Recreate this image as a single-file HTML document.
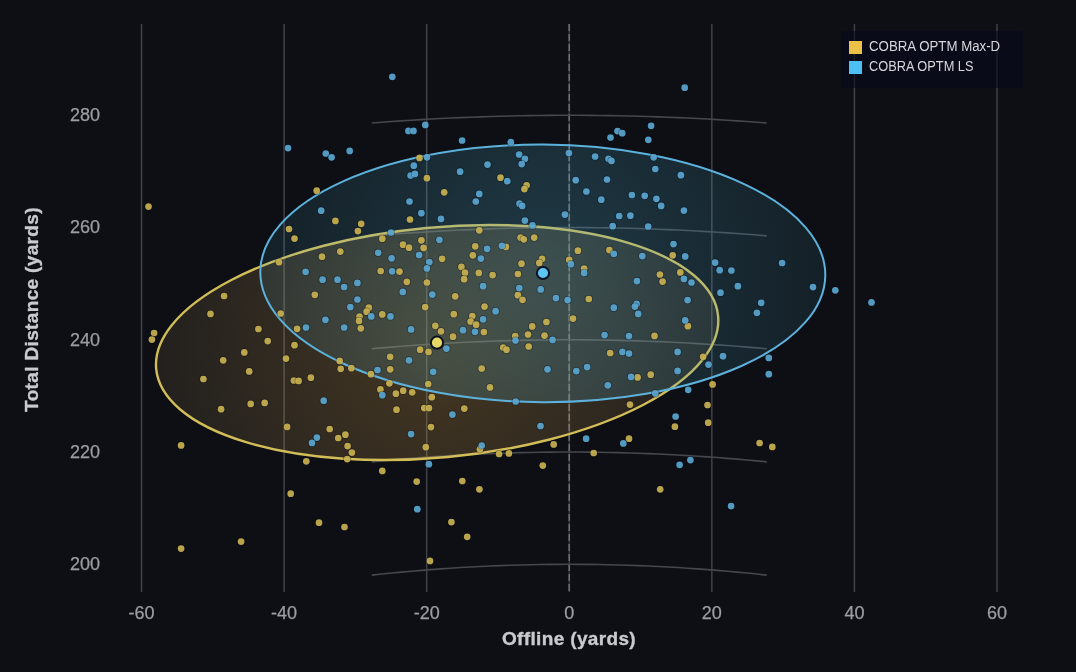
<!DOCTYPE html>
<html><head><meta charset="utf-8"><style>
html,body{margin:0;padding:0;background:#0d0f14;}
svg{display:block;will-change:transform;}
.tk{font-family:"Liberation Sans",sans-serif;font-size:18px;fill:#9c9ea4;stroke:#9c9ea4;stroke-width:0.25px;}
.ti{font-family:"Liberation Sans",sans-serif;font-size:19px;font-weight:bold;fill:#c9cace;letter-spacing:0.35px;stroke:#c9cace;stroke-width:0.35px;}
.lg{font-family:"Liberation Sans",sans-serif;font-size:14px;fill:#d6d7dc;}
</style></head><body>
<svg width="1076" height="672" viewBox="0 0 1076 672">
<defs>
<radialGradient id="gy" gradientUnits="userSpaceOnUse" cx="437.15" cy="342.5" r="282">
  <stop offset="0" stop-color="#d8a040" stop-opacity="0.282"/>
  <stop offset="1" stop-color="#cca468" stop-opacity="0.112"/>
</radialGradient>
<radialGradient id="gb" gradientUnits="userSpaceOnUse" cx="542.8" cy="273.3" r="282">
  <stop offset="0" stop-color="#50acca" stop-opacity="0.278"/>
  <stop offset="1" stop-color="#50acca" stop-opacity="0.108"/>
</radialGradient>
</defs>
<rect x="0" y="0" width="1076" height="672" fill="#0d0f14"/>
<line x1="141.51" y1="24" x2="141.51" y2="592" stroke="#404248" stroke-width="1.5"/>
<line x1="284.09" y1="24" x2="284.09" y2="592" stroke="#404248" stroke-width="1.5"/>
<line x1="426.67" y1="24" x2="426.67" y2="592" stroke="#404248" stroke-width="1.5"/>
<line x1="711.83" y1="24" x2="711.83" y2="592" stroke="#404248" stroke-width="1.5"/>
<line x1="854.41" y1="24" x2="854.41" y2="592" stroke="#404248" stroke-width="1.5"/>
<line x1="996.99" y1="24" x2="996.99" y2="592" stroke="#404248" stroke-width="1.5"/>
<line x1="569.25" y1="24" x2="569.25" y2="592" stroke="#34363b" stroke-width="1.6"/>
<line x1="569.25" y1="24" x2="569.25" y2="592" stroke="#6c6e74" stroke-width="1.6" stroke-dasharray="7,3"/>
<polyline points="371.78,575.12 381.65,574.06 391.52,573.05 401.40,572.11 411.27,571.21 421.15,570.37 431.02,569.59 440.89,568.86 450.77,568.18 460.64,567.56 470.51,566.99 480.39,566.48 490.26,566.02 500.13,565.62 510.01,565.27 519.88,564.97 529.76,564.73 539.63,564.54 549.50,564.41 559.38,564.33 569.25,564.30 579.12,564.33 589.00,564.41 598.87,564.54 608.74,564.73 618.62,564.97 628.49,565.27 638.37,565.62 648.24,566.02 658.11,566.48 667.99,566.99 677.86,567.56 687.73,568.18 697.61,568.86 707.48,569.59 717.35,570.37 727.23,571.21 737.10,572.11 746.98,573.05 756.85,574.06 766.72,575.12" fill="none" stroke="#45474d" stroke-width="1.6"/>
<polyline points="371.78,461.88 381.65,460.91 391.52,460.00 401.40,459.14 411.27,458.33 421.15,457.57 431.02,456.86 440.89,456.19 450.77,455.58 460.64,455.01 470.51,454.50 480.39,454.03 490.26,453.62 500.13,453.25 510.01,452.93 519.88,452.66 529.76,452.44 539.63,452.27 549.50,452.15 559.38,452.07 569.25,452.05 579.12,452.07 589.00,452.15 598.87,452.27 608.74,452.44 618.62,452.66 628.49,452.93 638.37,453.25 648.24,453.62 658.11,454.03 667.99,454.50 677.86,455.01 687.73,455.58 697.61,456.19 707.48,456.86 717.35,457.57 727.23,458.33 737.10,459.14 746.98,460.00 756.85,460.91 766.72,461.88" fill="none" stroke="#45474d" stroke-width="1.6"/>
<polyline points="371.78,348.80 381.65,347.92 391.52,347.09 401.40,346.30 411.27,345.55 421.15,344.86 431.02,344.20 440.89,343.60 450.77,343.03 460.64,342.52 470.51,342.04 480.39,341.62 490.26,341.24 500.13,340.90 510.01,340.61 519.88,340.36 529.76,340.16 539.63,340.00 549.50,339.89 559.38,339.82 569.25,339.80 579.12,339.82 589.00,339.89 598.87,340.00 608.74,340.16 618.62,340.36 628.49,340.61 638.37,340.90 648.24,341.24 658.11,341.62 667.99,342.04 677.86,342.52 687.73,343.03 697.61,343.60 707.48,344.20 717.35,344.86 727.23,345.55 737.10,346.30 746.98,347.09 756.85,347.92 766.72,348.80" fill="none" stroke="#45474d" stroke-width="1.6"/>
<polyline points="371.78,235.86 381.65,235.04 391.52,234.27 401.40,233.55 411.27,232.86 421.15,232.22 431.02,231.61 440.89,231.05 450.77,230.53 460.64,230.06 470.51,229.62 480.39,229.23 490.26,228.88 500.13,228.56 510.01,228.30 519.88,228.07 529.76,227.88 539.63,227.74 549.50,227.63 559.38,227.57 569.25,227.55 579.12,227.57 589.00,227.63 598.87,227.74 608.74,227.88 618.62,228.07 628.49,228.30 638.37,228.56 648.24,228.88 658.11,229.23 667.99,229.62 677.86,230.06 687.73,230.53 697.61,231.05 707.48,231.61 717.35,232.22 727.23,232.86 737.10,233.55 746.98,234.27 756.85,235.04 766.72,235.86" fill="none" stroke="#45474d" stroke-width="1.6"/>
<polyline points="371.78,123.01 381.65,122.26 391.52,121.54 401.40,120.87 411.27,120.23 421.15,119.63 431.02,119.07 440.89,118.55 450.77,118.07 460.64,117.63 470.51,117.22 480.39,116.86 490.26,116.53 500.13,116.24 510.01,115.99 519.88,115.78 529.76,115.61 539.63,115.47 549.50,115.38 559.38,115.32 569.25,115.30 579.12,115.32 589.00,115.38 598.87,115.47 608.74,115.61 618.62,115.78 628.49,115.99 638.37,116.24 648.24,116.53 658.11,116.86 667.99,117.22 677.86,117.63 687.73,118.07 697.61,118.55 707.48,119.07 717.35,119.63 727.23,120.23 737.10,120.87 746.98,121.54 756.85,122.26 766.72,123.01" fill="none" stroke="#45474d" stroke-width="1.6"/>
<ellipse cx="437.15" cy="342.5" rx="282.2" ry="115.0" transform="rotate(-5.38 437.15 342.5)" fill="url(#gy)" stroke="#d2bd58" stroke-width="2.4"/>
<ellipse cx="542.8" cy="273.4" rx="282.5" ry="128.8" transform="rotate(0.36 542.8 273.4)" fill="url(#gb)" stroke="#5cb2dc" stroke-width="2.0"/>
<circle cx="419.5" cy="157.9" r="4.1" fill="#000614" fill-opacity="0.35"/><circle cx="419.5" cy="157.9" r="3.35" fill="#cdb552" fill-opacity="0.9"/>
<circle cx="148.5" cy="206.6" r="4.1" fill="#000614" fill-opacity="0.35"/><circle cx="148.5" cy="206.6" r="3.35" fill="#cdb552" fill-opacity="0.9"/>
<circle cx="316.7" cy="190.7" r="4.1" fill="#000614" fill-opacity="0.35"/><circle cx="316.7" cy="190.7" r="3.35" fill="#cdb552" fill-opacity="0.9"/>
<circle cx="335.4" cy="220.9" r="4.1" fill="#000614" fill-opacity="0.35"/><circle cx="335.4" cy="220.9" r="3.35" fill="#cdb552" fill-opacity="0.9"/>
<circle cx="289.0" cy="229.0" r="4.1" fill="#000614" fill-opacity="0.35"/><circle cx="289.0" cy="229.0" r="3.35" fill="#cdb552" fill-opacity="0.9"/>
<circle cx="294.5" cy="238.6" r="4.1" fill="#000614" fill-opacity="0.35"/><circle cx="294.5" cy="238.6" r="3.35" fill="#cdb552" fill-opacity="0.9"/>
<circle cx="340.3" cy="251.6" r="4.1" fill="#000614" fill-opacity="0.35"/><circle cx="340.3" cy="251.6" r="3.35" fill="#cdb552" fill-opacity="0.9"/>
<circle cx="322.0" cy="256.7" r="4.1" fill="#000614" fill-opacity="0.35"/><circle cx="322.0" cy="256.7" r="3.35" fill="#cdb552" fill-opacity="0.9"/>
<circle cx="279.0" cy="262.2" r="4.1" fill="#000614" fill-opacity="0.35"/><circle cx="279.0" cy="262.2" r="3.35" fill="#cdb552" fill-opacity="0.9"/>
<circle cx="314.8" cy="294.8" r="4.1" fill="#000614" fill-opacity="0.35"/><circle cx="314.8" cy="294.8" r="3.35" fill="#cdb552" fill-opacity="0.9"/>
<circle cx="224.1" cy="296.0" r="4.1" fill="#000614" fill-opacity="0.35"/><circle cx="224.1" cy="296.0" r="3.35" fill="#cdb552" fill-opacity="0.9"/>
<circle cx="426.9" cy="178.2" r="4.1" fill="#000614" fill-opacity="0.35"/><circle cx="426.9" cy="178.2" r="3.35" fill="#cdb552" fill-opacity="0.9"/>
<circle cx="444.2" cy="192.3" r="4.1" fill="#000614" fill-opacity="0.35"/><circle cx="444.2" cy="192.3" r="3.35" fill="#cdb552" fill-opacity="0.9"/>
<circle cx="410.0" cy="219.5" r="4.1" fill="#000614" fill-opacity="0.35"/><circle cx="410.0" cy="219.5" r="3.35" fill="#cdb552" fill-opacity="0.9"/>
<circle cx="361.2" cy="223.8" r="4.1" fill="#000614" fill-opacity="0.35"/><circle cx="361.2" cy="223.8" r="3.35" fill="#cdb552" fill-opacity="0.9"/>
<circle cx="357.9" cy="231.1" r="4.1" fill="#000614" fill-opacity="0.35"/><circle cx="357.9" cy="231.1" r="3.35" fill="#cdb552" fill-opacity="0.9"/>
<circle cx="500.5" cy="177.7" r="4.1" fill="#000614" fill-opacity="0.35"/><circle cx="500.5" cy="177.7" r="3.35" fill="#cdb552" fill-opacity="0.9"/>
<circle cx="526.6" cy="185.3" r="4.1" fill="#000614" fill-opacity="0.35"/><circle cx="526.6" cy="185.3" r="3.35" fill="#cdb552" fill-opacity="0.9"/>
<circle cx="524.4" cy="189.1" r="4.1" fill="#000614" fill-opacity="0.35"/><circle cx="524.4" cy="189.1" r="3.35" fill="#cdb552" fill-opacity="0.9"/>
<circle cx="479.3" cy="230.3" r="4.1" fill="#000614" fill-opacity="0.35"/><circle cx="479.3" cy="230.3" r="3.35" fill="#cdb552" fill-opacity="0.9"/>
<circle cx="382.3" cy="238.7" r="4.1" fill="#000614" fill-opacity="0.35"/><circle cx="382.3" cy="238.7" r="3.35" fill="#cdb552" fill-opacity="0.9"/>
<circle cx="421.4" cy="240.3" r="4.1" fill="#000614" fill-opacity="0.35"/><circle cx="421.4" cy="240.3" r="3.35" fill="#cdb552" fill-opacity="0.9"/>
<circle cx="403.0" cy="244.7" r="4.1" fill="#000614" fill-opacity="0.35"/><circle cx="403.0" cy="244.7" r="3.35" fill="#cdb552" fill-opacity="0.9"/>
<circle cx="409.0" cy="247.7" r="4.1" fill="#000614" fill-opacity="0.35"/><circle cx="409.0" cy="247.7" r="3.35" fill="#cdb552" fill-opacity="0.9"/>
<circle cx="423.6" cy="247.9" r="4.1" fill="#000614" fill-opacity="0.35"/><circle cx="423.6" cy="247.9" r="3.35" fill="#cdb552" fill-opacity="0.9"/>
<circle cx="442.1" cy="258.8" r="4.1" fill="#000614" fill-opacity="0.35"/><circle cx="442.1" cy="258.8" r="3.35" fill="#cdb552" fill-opacity="0.9"/>
<circle cx="380.7" cy="271.0" r="4.1" fill="#000614" fill-opacity="0.35"/><circle cx="380.7" cy="271.0" r="3.35" fill="#cdb552" fill-opacity="0.9"/>
<circle cx="399.5" cy="271.6" r="4.1" fill="#000614" fill-opacity="0.35"/><circle cx="399.5" cy="271.6" r="3.35" fill="#cdb552" fill-opacity="0.9"/>
<circle cx="406.8" cy="281.8" r="4.1" fill="#000614" fill-opacity="0.35"/><circle cx="406.8" cy="281.8" r="3.35" fill="#cdb552" fill-opacity="0.9"/>
<circle cx="426.9" cy="282.5" r="4.1" fill="#000614" fill-opacity="0.35"/><circle cx="426.9" cy="282.5" r="3.35" fill="#cdb552" fill-opacity="0.9"/>
<circle cx="368.8" cy="307.7" r="4.1" fill="#000614" fill-opacity="0.35"/><circle cx="368.8" cy="307.7" r="3.35" fill="#cdb552" fill-opacity="0.9"/>
<circle cx="425.2" cy="307.1" r="4.1" fill="#000614" fill-opacity="0.35"/><circle cx="425.2" cy="307.1" r="3.35" fill="#cdb552" fill-opacity="0.9"/>
<circle cx="520.6" cy="237.6" r="4.1" fill="#000614" fill-opacity="0.35"/><circle cx="520.6" cy="237.6" r="3.35" fill="#cdb552" fill-opacity="0.9"/>
<circle cx="523.8" cy="239.3" r="4.1" fill="#000614" fill-opacity="0.35"/><circle cx="523.8" cy="239.3" r="3.35" fill="#cdb552" fill-opacity="0.9"/>
<circle cx="534.2" cy="237.6" r="4.1" fill="#000614" fill-opacity="0.35"/><circle cx="534.2" cy="237.6" r="3.35" fill="#cdb552" fill-opacity="0.9"/>
<circle cx="475.2" cy="246.3" r="4.1" fill="#000614" fill-opacity="0.35"/><circle cx="475.2" cy="246.3" r="3.35" fill="#cdb552" fill-opacity="0.9"/>
<circle cx="505.9" cy="246.9" r="4.1" fill="#000614" fill-opacity="0.35"/><circle cx="505.9" cy="246.9" r="3.35" fill="#cdb552" fill-opacity="0.9"/>
<circle cx="472.8" cy="255.3" r="4.1" fill="#000614" fill-opacity="0.35"/><circle cx="472.8" cy="255.3" r="3.35" fill="#cdb552" fill-opacity="0.9"/>
<circle cx="521.5" cy="263.7" r="4.1" fill="#000614" fill-opacity="0.35"/><circle cx="521.5" cy="263.7" r="3.35" fill="#cdb552" fill-opacity="0.9"/>
<circle cx="542.1" cy="258.8" r="4.1" fill="#000614" fill-opacity="0.35"/><circle cx="542.1" cy="258.8" r="3.35" fill="#cdb552" fill-opacity="0.9"/>
<circle cx="539.3" cy="262.9" r="4.1" fill="#000614" fill-opacity="0.35"/><circle cx="539.3" cy="262.9" r="3.35" fill="#cdb552" fill-opacity="0.9"/>
<circle cx="461.4" cy="266.9" r="4.1" fill="#000614" fill-opacity="0.35"/><circle cx="461.4" cy="266.9" r="3.35" fill="#cdb552" fill-opacity="0.9"/>
<circle cx="465.0" cy="272.7" r="4.1" fill="#000614" fill-opacity="0.35"/><circle cx="465.0" cy="272.7" r="3.35" fill="#cdb552" fill-opacity="0.9"/>
<circle cx="464.1" cy="279.2" r="4.1" fill="#000614" fill-opacity="0.35"/><circle cx="464.1" cy="279.2" r="3.35" fill="#cdb552" fill-opacity="0.9"/>
<circle cx="478.8" cy="272.9" r="4.1" fill="#000614" fill-opacity="0.35"/><circle cx="478.8" cy="272.9" r="3.35" fill="#cdb552" fill-opacity="0.9"/>
<circle cx="492.6" cy="275.1" r="4.1" fill="#000614" fill-opacity="0.35"/><circle cx="492.6" cy="275.1" r="3.35" fill="#cdb552" fill-opacity="0.9"/>
<circle cx="517.9" cy="274.0" r="4.1" fill="#000614" fill-opacity="0.35"/><circle cx="517.9" cy="274.0" r="3.35" fill="#cdb552" fill-opacity="0.9"/>
<circle cx="517.9" cy="295.2" r="4.1" fill="#000614" fill-opacity="0.35"/><circle cx="517.9" cy="295.2" r="3.35" fill="#cdb552" fill-opacity="0.9"/>
<circle cx="522.5" cy="299.8" r="4.1" fill="#000614" fill-opacity="0.35"/><circle cx="522.5" cy="299.8" r="3.35" fill="#cdb552" fill-opacity="0.9"/>
<circle cx="455.2" cy="296.3" r="4.1" fill="#000614" fill-opacity="0.35"/><circle cx="455.2" cy="296.3" r="3.35" fill="#cdb552" fill-opacity="0.9"/>
<circle cx="484.5" cy="306.6" r="4.1" fill="#000614" fill-opacity="0.35"/><circle cx="484.5" cy="306.6" r="3.35" fill="#cdb552" fill-opacity="0.9"/>
<circle cx="577.9" cy="250.7" r="4.1" fill="#000614" fill-opacity="0.35"/><circle cx="577.9" cy="250.7" r="3.35" fill="#cdb552" fill-opacity="0.9"/>
<circle cx="609.4" cy="250.1" r="4.1" fill="#000614" fill-opacity="0.35"/><circle cx="609.4" cy="250.1" r="3.35" fill="#cdb552" fill-opacity="0.9"/>
<circle cx="569.2" cy="259.9" r="4.1" fill="#000614" fill-opacity="0.35"/><circle cx="569.2" cy="259.9" r="3.35" fill="#cdb552" fill-opacity="0.9"/>
<circle cx="584.1" cy="268.6" r="4.1" fill="#000614" fill-opacity="0.35"/><circle cx="584.1" cy="268.6" r="3.35" fill="#cdb552" fill-opacity="0.9"/>
<circle cx="659.9" cy="274.5" r="4.1" fill="#000614" fill-opacity="0.35"/><circle cx="659.9" cy="274.5" r="3.35" fill="#cdb552" fill-opacity="0.9"/>
<circle cx="662.6" cy="281.6" r="4.1" fill="#000614" fill-opacity="0.35"/><circle cx="662.6" cy="281.6" r="3.35" fill="#cdb552" fill-opacity="0.9"/>
<circle cx="588.8" cy="299.0" r="4.1" fill="#000614" fill-opacity="0.35"/><circle cx="588.8" cy="299.0" r="3.35" fill="#cdb552" fill-opacity="0.9"/>
<circle cx="672.7" cy="255.3" r="4.1" fill="#000614" fill-opacity="0.35"/><circle cx="672.7" cy="255.3" r="3.35" fill="#cdb552" fill-opacity="0.9"/>
<circle cx="680.3" cy="272.4" r="4.1" fill="#000614" fill-opacity="0.35"/><circle cx="680.3" cy="272.4" r="3.35" fill="#cdb552" fill-opacity="0.9"/>
<circle cx="210.5" cy="313.9" r="4.1" fill="#000614" fill-opacity="0.35"/><circle cx="210.5" cy="313.9" r="3.35" fill="#cdb552" fill-opacity="0.9"/>
<circle cx="280.7" cy="313.5" r="4.1" fill="#000614" fill-opacity="0.35"/><circle cx="280.7" cy="313.5" r="3.35" fill="#cdb552" fill-opacity="0.9"/>
<circle cx="154.1" cy="333.0" r="4.1" fill="#000614" fill-opacity="0.35"/><circle cx="154.1" cy="333.0" r="3.35" fill="#cdb552" fill-opacity="0.9"/>
<circle cx="151.9" cy="339.6" r="4.1" fill="#000614" fill-opacity="0.35"/><circle cx="151.9" cy="339.6" r="3.35" fill="#cdb552" fill-opacity="0.9"/>
<circle cx="258.4" cy="329.0" r="4.1" fill="#000614" fill-opacity="0.35"/><circle cx="258.4" cy="329.0" r="3.35" fill="#cdb552" fill-opacity="0.9"/>
<circle cx="297.1" cy="328.8" r="4.1" fill="#000614" fill-opacity="0.35"/><circle cx="297.1" cy="328.8" r="3.35" fill="#cdb552" fill-opacity="0.9"/>
<circle cx="267.7" cy="341.1" r="4.1" fill="#000614" fill-opacity="0.35"/><circle cx="267.7" cy="341.1" r="3.35" fill="#cdb552" fill-opacity="0.9"/>
<circle cx="294.5" cy="345.2" r="4.1" fill="#000614" fill-opacity="0.35"/><circle cx="294.5" cy="345.2" r="3.35" fill="#cdb552" fill-opacity="0.9"/>
<circle cx="244.3" cy="352.4" r="4.1" fill="#000614" fill-opacity="0.35"/><circle cx="244.3" cy="352.4" r="3.35" fill="#cdb552" fill-opacity="0.9"/>
<circle cx="223.2" cy="360.3" r="4.1" fill="#000614" fill-opacity="0.35"/><circle cx="223.2" cy="360.3" r="3.35" fill="#cdb552" fill-opacity="0.9"/>
<circle cx="286.0" cy="358.6" r="4.1" fill="#000614" fill-opacity="0.35"/><circle cx="286.0" cy="358.6" r="3.35" fill="#cdb552" fill-opacity="0.9"/>
<circle cx="339.7" cy="360.9" r="4.1" fill="#000614" fill-opacity="0.35"/><circle cx="339.7" cy="360.9" r="3.35" fill="#cdb552" fill-opacity="0.9"/>
<circle cx="340.7" cy="368.8" r="4.1" fill="#000614" fill-opacity="0.35"/><circle cx="340.7" cy="368.8" r="3.35" fill="#cdb552" fill-opacity="0.9"/>
<circle cx="249.2" cy="371.4" r="4.1" fill="#000614" fill-opacity="0.35"/><circle cx="249.2" cy="371.4" r="3.35" fill="#cdb552" fill-opacity="0.9"/>
<circle cx="203.4" cy="379.0" r="4.1" fill="#000614" fill-opacity="0.35"/><circle cx="203.4" cy="379.0" r="3.35" fill="#cdb552" fill-opacity="0.9"/>
<circle cx="293.9" cy="380.5" r="4.1" fill="#000614" fill-opacity="0.35"/><circle cx="293.9" cy="380.5" r="3.35" fill="#cdb552" fill-opacity="0.9"/>
<circle cx="298.6" cy="380.9" r="4.1" fill="#000614" fill-opacity="0.35"/><circle cx="298.6" cy="380.9" r="3.35" fill="#cdb552" fill-opacity="0.9"/>
<circle cx="310.9" cy="377.7" r="4.1" fill="#000614" fill-opacity="0.35"/><circle cx="310.9" cy="377.7" r="3.35" fill="#cdb552" fill-opacity="0.9"/>
<circle cx="250.7" cy="403.9" r="4.1" fill="#000614" fill-opacity="0.35"/><circle cx="250.7" cy="403.9" r="3.35" fill="#cdb552" fill-opacity="0.9"/>
<circle cx="264.7" cy="402.9" r="4.1" fill="#000614" fill-opacity="0.35"/><circle cx="264.7" cy="402.9" r="3.35" fill="#cdb552" fill-opacity="0.9"/>
<circle cx="221.1" cy="409.2" r="4.1" fill="#000614" fill-opacity="0.35"/><circle cx="221.1" cy="409.2" r="3.35" fill="#cdb552" fill-opacity="0.9"/>
<circle cx="287.1" cy="426.9" r="4.1" fill="#000614" fill-opacity="0.35"/><circle cx="287.1" cy="426.9" r="3.35" fill="#cdb552" fill-opacity="0.9"/>
<circle cx="329.7" cy="429.0" r="4.1" fill="#000614" fill-opacity="0.35"/><circle cx="329.7" cy="429.0" r="3.35" fill="#cdb552" fill-opacity="0.9"/>
<circle cx="338.2" cy="438.0" r="4.1" fill="#000614" fill-opacity="0.35"/><circle cx="338.2" cy="438.0" r="3.35" fill="#cdb552" fill-opacity="0.9"/>
<circle cx="181.1" cy="445.4" r="4.1" fill="#000614" fill-opacity="0.35"/><circle cx="181.1" cy="445.4" r="3.35" fill="#cdb552" fill-opacity="0.9"/>
<circle cx="366.6" cy="311.7" r="4.1" fill="#000614" fill-opacity="0.35"/><circle cx="366.6" cy="311.7" r="3.35" fill="#cdb552" fill-opacity="0.9"/>
<circle cx="382.3" cy="314.4" r="4.1" fill="#000614" fill-opacity="0.35"/><circle cx="382.3" cy="314.4" r="3.35" fill="#cdb552" fill-opacity="0.9"/>
<circle cx="359.5" cy="316.6" r="4.1" fill="#000614" fill-opacity="0.35"/><circle cx="359.5" cy="316.6" r="3.35" fill="#cdb552" fill-opacity="0.9"/>
<circle cx="359.0" cy="320.9" r="4.1" fill="#000614" fill-opacity="0.35"/><circle cx="359.0" cy="320.9" r="3.35" fill="#cdb552" fill-opacity="0.9"/>
<circle cx="360.8" cy="328.3" r="4.1" fill="#000614" fill-opacity="0.35"/><circle cx="360.8" cy="328.3" r="3.35" fill="#cdb552" fill-opacity="0.9"/>
<circle cx="435.3" cy="325.8" r="4.1" fill="#000614" fill-opacity="0.35"/><circle cx="435.3" cy="325.8" r="3.35" fill="#cdb552" fill-opacity="0.9"/>
<circle cx="441.0" cy="331.3" r="4.1" fill="#000614" fill-opacity="0.35"/><circle cx="441.0" cy="331.3" r="3.35" fill="#cdb552" fill-opacity="0.9"/>
<circle cx="420.1" cy="349.7" r="4.1" fill="#000614" fill-opacity="0.35"/><circle cx="420.1" cy="349.7" r="3.35" fill="#cdb552" fill-opacity="0.9"/>
<circle cx="428.5" cy="351.9" r="4.1" fill="#000614" fill-opacity="0.35"/><circle cx="428.5" cy="351.9" r="3.35" fill="#cdb552" fill-opacity="0.9"/>
<circle cx="390.2" cy="356.8" r="4.1" fill="#000614" fill-opacity="0.35"/><circle cx="390.2" cy="356.8" r="3.35" fill="#cdb552" fill-opacity="0.9"/>
<circle cx="351.4" cy="368.2" r="4.1" fill="#000614" fill-opacity="0.35"/><circle cx="351.4" cy="368.2" r="3.35" fill="#cdb552" fill-opacity="0.9"/>
<circle cx="390.2" cy="369.3" r="4.1" fill="#000614" fill-opacity="0.35"/><circle cx="390.2" cy="369.3" r="3.35" fill="#cdb552" fill-opacity="0.9"/>
<circle cx="370.9" cy="374.2" r="4.1" fill="#000614" fill-opacity="0.35"/><circle cx="370.9" cy="374.2" r="3.35" fill="#cdb552" fill-opacity="0.9"/>
<circle cx="453.8" cy="314.2" r="4.1" fill="#000614" fill-opacity="0.35"/><circle cx="453.8" cy="314.2" r="3.35" fill="#cdb552" fill-opacity="0.9"/>
<circle cx="472.3" cy="316.1" r="4.1" fill="#000614" fill-opacity="0.35"/><circle cx="472.3" cy="316.1" r="3.35" fill="#cdb552" fill-opacity="0.9"/>
<circle cx="470.6" cy="321.5" r="4.1" fill="#000614" fill-opacity="0.35"/><circle cx="470.6" cy="321.5" r="3.35" fill="#cdb552" fill-opacity="0.9"/>
<circle cx="476.1" cy="324.7" r="4.1" fill="#000614" fill-opacity="0.35"/><circle cx="476.1" cy="324.7" r="3.35" fill="#cdb552" fill-opacity="0.9"/>
<circle cx="483.9" cy="332.0" r="4.1" fill="#000614" fill-opacity="0.35"/><circle cx="483.9" cy="332.0" r="3.35" fill="#cdb552" fill-opacity="0.9"/>
<circle cx="453.0" cy="336.7" r="4.1" fill="#000614" fill-opacity="0.35"/><circle cx="453.0" cy="336.7" r="3.35" fill="#cdb552" fill-opacity="0.9"/>
<circle cx="515.2" cy="336.1" r="4.1" fill="#000614" fill-opacity="0.35"/><circle cx="515.2" cy="336.1" r="3.35" fill="#cdb552" fill-opacity="0.9"/>
<circle cx="546.4" cy="322.0" r="4.1" fill="#000614" fill-opacity="0.35"/><circle cx="546.4" cy="322.0" r="3.35" fill="#cdb552" fill-opacity="0.9"/>
<circle cx="532.2" cy="326.4" r="4.1" fill="#000614" fill-opacity="0.35"/><circle cx="532.2" cy="326.4" r="3.35" fill="#cdb552" fill-opacity="0.9"/>
<circle cx="528.0" cy="334.5" r="4.1" fill="#000614" fill-opacity="0.35"/><circle cx="528.0" cy="334.5" r="3.35" fill="#cdb552" fill-opacity="0.9"/>
<circle cx="544.5" cy="335.6" r="4.1" fill="#000614" fill-opacity="0.35"/><circle cx="544.5" cy="335.6" r="3.35" fill="#cdb552" fill-opacity="0.9"/>
<circle cx="528.7" cy="346.5" r="4.1" fill="#000614" fill-opacity="0.35"/><circle cx="528.7" cy="346.5" r="3.35" fill="#cdb552" fill-opacity="0.9"/>
<circle cx="503.2" cy="347.5" r="4.1" fill="#000614" fill-opacity="0.35"/><circle cx="503.2" cy="347.5" r="3.35" fill="#cdb552" fill-opacity="0.9"/>
<circle cx="506.5" cy="349.7" r="4.1" fill="#000614" fill-opacity="0.35"/><circle cx="506.5" cy="349.7" r="3.35" fill="#cdb552" fill-opacity="0.9"/>
<circle cx="481.7" cy="368.5" r="4.1" fill="#000614" fill-opacity="0.35"/><circle cx="481.7" cy="368.5" r="3.35" fill="#cdb552" fill-opacity="0.9"/>
<circle cx="573.0" cy="318.6" r="4.1" fill="#000614" fill-opacity="0.35"/><circle cx="573.0" cy="318.6" r="3.35" fill="#cdb552" fill-opacity="0.9"/>
<circle cx="654.5" cy="335.9" r="4.1" fill="#000614" fill-opacity="0.35"/><circle cx="654.5" cy="335.9" r="3.35" fill="#cdb552" fill-opacity="0.9"/>
<circle cx="610.2" cy="353.0" r="4.1" fill="#000614" fill-opacity="0.35"/><circle cx="610.2" cy="353.0" r="3.35" fill="#cdb552" fill-opacity="0.9"/>
<circle cx="637.6" cy="377.4" r="4.1" fill="#000614" fill-opacity="0.35"/><circle cx="637.6" cy="377.4" r="3.35" fill="#cdb552" fill-opacity="0.9"/>
<circle cx="650.7" cy="374.7" r="4.1" fill="#000614" fill-opacity="0.35"/><circle cx="650.7" cy="374.7" r="3.35" fill="#cdb552" fill-opacity="0.9"/>
<circle cx="687.9" cy="326.2" r="4.1" fill="#000614" fill-opacity="0.35"/><circle cx="687.9" cy="326.2" r="3.35" fill="#cdb552" fill-opacity="0.9"/>
<circle cx="703.1" cy="356.8" r="4.1" fill="#000614" fill-opacity="0.35"/><circle cx="703.1" cy="356.8" r="3.35" fill="#cdb552" fill-opacity="0.9"/>
<circle cx="389.4" cy="383.3" r="4.1" fill="#000614" fill-opacity="0.35"/><circle cx="389.4" cy="383.3" r="3.35" fill="#cdb552" fill-opacity="0.9"/>
<circle cx="428.2" cy="384.0" r="4.1" fill="#000614" fill-opacity="0.35"/><circle cx="428.2" cy="384.0" r="3.35" fill="#cdb552" fill-opacity="0.9"/>
<circle cx="380.4" cy="389.4" r="4.1" fill="#000614" fill-opacity="0.35"/><circle cx="380.4" cy="389.4" r="3.35" fill="#cdb552" fill-opacity="0.9"/>
<circle cx="395.9" cy="393.7" r="4.1" fill="#000614" fill-opacity="0.35"/><circle cx="395.9" cy="393.7" r="3.35" fill="#cdb552" fill-opacity="0.9"/>
<circle cx="403.2" cy="390.7" r="4.1" fill="#000614" fill-opacity="0.35"/><circle cx="403.2" cy="390.7" r="3.35" fill="#cdb552" fill-opacity="0.9"/>
<circle cx="412.2" cy="392.3" r="4.1" fill="#000614" fill-opacity="0.35"/><circle cx="412.2" cy="392.3" r="3.35" fill="#cdb552" fill-opacity="0.9"/>
<circle cx="431.8" cy="397.2" r="4.1" fill="#000614" fill-opacity="0.35"/><circle cx="431.8" cy="397.2" r="3.35" fill="#cdb552" fill-opacity="0.9"/>
<circle cx="396.5" cy="409.7" r="4.1" fill="#000614" fill-opacity="0.35"/><circle cx="396.5" cy="409.7" r="3.35" fill="#cdb552" fill-opacity="0.9"/>
<circle cx="424.2" cy="408.1" r="4.1" fill="#000614" fill-opacity="0.35"/><circle cx="424.2" cy="408.1" r="3.35" fill="#cdb552" fill-opacity="0.9"/>
<circle cx="429.0" cy="408.1" r="4.1" fill="#000614" fill-opacity="0.35"/><circle cx="429.0" cy="408.1" r="3.35" fill="#cdb552" fill-opacity="0.9"/>
<circle cx="431.0" cy="427.1" r="4.1" fill="#000614" fill-opacity="0.35"/><circle cx="431.0" cy="427.1" r="3.35" fill="#cdb552" fill-opacity="0.9"/>
<circle cx="345.4" cy="434.7" r="4.1" fill="#000614" fill-opacity="0.35"/><circle cx="345.4" cy="434.7" r="3.35" fill="#cdb552" fill-opacity="0.9"/>
<circle cx="347.6" cy="446.1" r="4.1" fill="#000614" fill-opacity="0.35"/><circle cx="347.6" cy="446.1" r="3.35" fill="#cdb552" fill-opacity="0.9"/>
<circle cx="351.9" cy="452.6" r="4.1" fill="#000614" fill-opacity="0.35"/><circle cx="351.9" cy="452.6" r="3.35" fill="#cdb552" fill-opacity="0.9"/>
<circle cx="425.8" cy="447.2" r="4.1" fill="#000614" fill-opacity="0.35"/><circle cx="425.8" cy="447.2" r="3.35" fill="#cdb552" fill-opacity="0.9"/>
<circle cx="490.0" cy="387.4" r="4.1" fill="#000614" fill-opacity="0.35"/><circle cx="490.0" cy="387.4" r="3.35" fill="#cdb552" fill-opacity="0.9"/>
<circle cx="464.3" cy="408.6" r="4.1" fill="#000614" fill-opacity="0.35"/><circle cx="464.3" cy="408.6" r="3.35" fill="#cdb552" fill-opacity="0.9"/>
<circle cx="479.9" cy="449.3" r="4.1" fill="#000614" fill-opacity="0.35"/><circle cx="479.9" cy="449.3" r="3.35" fill="#cdb552" fill-opacity="0.9"/>
<circle cx="553.7" cy="444.4" r="4.1" fill="#000614" fill-opacity="0.35"/><circle cx="553.7" cy="444.4" r="3.35" fill="#cdb552" fill-opacity="0.9"/>
<circle cx="630.0" cy="404.6" r="4.1" fill="#000614" fill-opacity="0.35"/><circle cx="630.0" cy="404.6" r="3.35" fill="#cdb552" fill-opacity="0.9"/>
<circle cx="629.0" cy="438.7" r="4.1" fill="#000614" fill-opacity="0.35"/><circle cx="629.0" cy="438.7" r="3.35" fill="#cdb552" fill-opacity="0.9"/>
<circle cx="712.6" cy="384.4" r="4.1" fill="#000614" fill-opacity="0.35"/><circle cx="712.6" cy="384.4" r="3.35" fill="#cdb552" fill-opacity="0.9"/>
<circle cx="707.5" cy="405.0" r="4.1" fill="#000614" fill-opacity="0.35"/><circle cx="707.5" cy="405.0" r="3.35" fill="#cdb552" fill-opacity="0.9"/>
<circle cx="674.9" cy="426.7" r="4.1" fill="#000614" fill-opacity="0.35"/><circle cx="674.9" cy="426.7" r="3.35" fill="#cdb552" fill-opacity="0.9"/>
<circle cx="708.2" cy="422.7" r="4.1" fill="#000614" fill-opacity="0.35"/><circle cx="708.2" cy="422.7" r="3.35" fill="#cdb552" fill-opacity="0.9"/>
<circle cx="759.6" cy="443.0" r="4.1" fill="#000614" fill-opacity="0.35"/><circle cx="759.6" cy="443.0" r="3.35" fill="#cdb552" fill-opacity="0.9"/>
<circle cx="772.3" cy="446.9" r="4.1" fill="#000614" fill-opacity="0.35"/><circle cx="772.3" cy="446.9" r="3.35" fill="#cdb552" fill-opacity="0.9"/>
<circle cx="306.3" cy="461.3" r="4.1" fill="#000614" fill-opacity="0.35"/><circle cx="306.3" cy="461.3" r="3.35" fill="#cdb552" fill-opacity="0.9"/>
<circle cx="290.7" cy="493.7" r="4.1" fill="#000614" fill-opacity="0.35"/><circle cx="290.7" cy="493.7" r="3.35" fill="#cdb552" fill-opacity="0.9"/>
<circle cx="319.0" cy="522.7" r="4.1" fill="#000614" fill-opacity="0.35"/><circle cx="319.0" cy="522.7" r="3.35" fill="#cdb552" fill-opacity="0.9"/>
<circle cx="241.1" cy="541.6" r="4.1" fill="#000614" fill-opacity="0.35"/><circle cx="241.1" cy="541.6" r="3.35" fill="#cdb552" fill-opacity="0.9"/>
<circle cx="181.1" cy="548.6" r="4.1" fill="#000614" fill-opacity="0.35"/><circle cx="181.1" cy="548.6" r="3.35" fill="#cdb552" fill-opacity="0.9"/>
<circle cx="347.2" cy="459.1" r="4.1" fill="#000614" fill-opacity="0.35"/><circle cx="347.2" cy="459.1" r="3.35" fill="#cdb552" fill-opacity="0.9"/>
<circle cx="499.1" cy="454.0" r="4.1" fill="#000614" fill-opacity="0.35"/><circle cx="499.1" cy="454.0" r="3.35" fill="#cdb552" fill-opacity="0.9"/>
<circle cx="508.9" cy="453.4" r="4.1" fill="#000614" fill-opacity="0.35"/><circle cx="508.9" cy="453.4" r="3.35" fill="#cdb552" fill-opacity="0.9"/>
<circle cx="542.8" cy="465.6" r="4.1" fill="#000614" fill-opacity="0.35"/><circle cx="542.8" cy="465.6" r="3.35" fill="#cdb552" fill-opacity="0.9"/>
<circle cx="382.3" cy="470.9" r="4.1" fill="#000614" fill-opacity="0.35"/><circle cx="382.3" cy="470.9" r="3.35" fill="#cdb552" fill-opacity="0.9"/>
<circle cx="416.7" cy="481.6" r="4.1" fill="#000614" fill-opacity="0.35"/><circle cx="416.7" cy="481.6" r="3.35" fill="#cdb552" fill-opacity="0.9"/>
<circle cx="462.3" cy="481.0" r="4.1" fill="#000614" fill-opacity="0.35"/><circle cx="462.3" cy="481.0" r="3.35" fill="#cdb552" fill-opacity="0.9"/>
<circle cx="479.4" cy="489.3" r="4.1" fill="#000614" fill-opacity="0.35"/><circle cx="479.4" cy="489.3" r="3.35" fill="#cdb552" fill-opacity="0.9"/>
<circle cx="344.5" cy="527.0" r="4.1" fill="#000614" fill-opacity="0.35"/><circle cx="344.5" cy="527.0" r="3.35" fill="#cdb552" fill-opacity="0.9"/>
<circle cx="451.4" cy="522.1" r="4.1" fill="#000614" fill-opacity="0.35"/><circle cx="451.4" cy="522.1" r="3.35" fill="#cdb552" fill-opacity="0.9"/>
<circle cx="467.2" cy="536.8" r="4.1" fill="#000614" fill-opacity="0.35"/><circle cx="467.2" cy="536.8" r="3.35" fill="#cdb552" fill-opacity="0.9"/>
<circle cx="430.0" cy="560.9" r="4.1" fill="#000614" fill-opacity="0.35"/><circle cx="430.0" cy="560.9" r="3.35" fill="#cdb552" fill-opacity="0.9"/>
<circle cx="593.7" cy="453.0" r="4.1" fill="#000614" fill-opacity="0.35"/><circle cx="593.7" cy="453.0" r="3.35" fill="#cdb552" fill-opacity="0.9"/>
<circle cx="660.2" cy="489.3" r="4.1" fill="#000614" fill-opacity="0.35"/><circle cx="660.2" cy="489.3" r="3.35" fill="#cdb552" fill-opacity="0.9"/>
<circle cx="288.0" cy="148.1" r="4.1" fill="#000614" fill-opacity="0.35"/><circle cx="288.0" cy="148.1" r="3.35" fill="#5caad4" fill-opacity="0.9"/>
<circle cx="325.8" cy="153.5" r="4.1" fill="#000614" fill-opacity="0.35"/><circle cx="325.8" cy="153.5" r="3.35" fill="#5caad4" fill-opacity="0.9"/>
<circle cx="331.6" cy="157.3" r="4.1" fill="#000614" fill-opacity="0.35"/><circle cx="331.6" cy="157.3" r="3.35" fill="#5caad4" fill-opacity="0.9"/>
<circle cx="392.3" cy="76.8" r="4.1" fill="#000614" fill-opacity="0.35"/><circle cx="392.3" cy="76.8" r="3.35" fill="#5caad4" fill-opacity="0.9"/>
<circle cx="425.3" cy="124.9" r="4.1" fill="#000614" fill-opacity="0.35"/><circle cx="425.3" cy="124.9" r="3.35" fill="#5caad4" fill-opacity="0.9"/>
<circle cx="408.4" cy="130.9" r="4.1" fill="#000614" fill-opacity="0.35"/><circle cx="408.4" cy="130.9" r="3.35" fill="#5caad4" fill-opacity="0.9"/>
<circle cx="413.5" cy="130.9" r="4.1" fill="#000614" fill-opacity="0.35"/><circle cx="413.5" cy="130.9" r="3.35" fill="#5caad4" fill-opacity="0.9"/>
<circle cx="462.1" cy="140.5" r="4.1" fill="#000614" fill-opacity="0.35"/><circle cx="462.1" cy="140.5" r="3.35" fill="#5caad4" fill-opacity="0.9"/>
<circle cx="349.7" cy="150.9" r="4.1" fill="#000614" fill-opacity="0.35"/><circle cx="349.7" cy="150.9" r="3.35" fill="#5caad4" fill-opacity="0.9"/>
<circle cx="510.8" cy="142.2" r="4.1" fill="#000614" fill-opacity="0.35"/><circle cx="510.8" cy="142.2" r="3.35" fill="#5caad4" fill-opacity="0.9"/>
<circle cx="427.0" cy="157.3" r="4.1" fill="#000614" fill-opacity="0.35"/><circle cx="427.0" cy="157.3" r="3.35" fill="#5caad4" fill-opacity="0.9"/>
<circle cx="519.1" cy="154.5" r="4.1" fill="#000614" fill-opacity="0.35"/><circle cx="519.1" cy="154.5" r="3.35" fill="#5caad4" fill-opacity="0.9"/>
<circle cx="524.9" cy="158.8" r="4.1" fill="#000614" fill-opacity="0.35"/><circle cx="524.9" cy="158.8" r="3.35" fill="#5caad4" fill-opacity="0.9"/>
<circle cx="684.7" cy="87.7" r="4.1" fill="#000614" fill-opacity="0.35"/><circle cx="684.7" cy="87.7" r="3.35" fill="#5caad4" fill-opacity="0.9"/>
<circle cx="651.1" cy="125.8" r="4.1" fill="#000614" fill-opacity="0.35"/><circle cx="651.1" cy="125.8" r="3.35" fill="#5caad4" fill-opacity="0.9"/>
<circle cx="617.5" cy="131.1" r="4.1" fill="#000614" fill-opacity="0.35"/><circle cx="617.5" cy="131.1" r="3.35" fill="#5caad4" fill-opacity="0.9"/>
<circle cx="622.2" cy="133.2" r="4.1" fill="#000614" fill-opacity="0.35"/><circle cx="622.2" cy="133.2" r="3.35" fill="#5caad4" fill-opacity="0.9"/>
<circle cx="610.5" cy="137.5" r="4.1" fill="#000614" fill-opacity="0.35"/><circle cx="610.5" cy="137.5" r="3.35" fill="#5caad4" fill-opacity="0.9"/>
<circle cx="648.3" cy="139.8" r="4.1" fill="#000614" fill-opacity="0.35"/><circle cx="648.3" cy="139.8" r="3.35" fill="#5caad4" fill-opacity="0.9"/>
<circle cx="568.9" cy="153.0" r="4.1" fill="#000614" fill-opacity="0.35"/><circle cx="568.9" cy="153.0" r="3.35" fill="#5caad4" fill-opacity="0.9"/>
<circle cx="595.1" cy="156.5" r="4.1" fill="#000614" fill-opacity="0.35"/><circle cx="595.1" cy="156.5" r="3.35" fill="#5caad4" fill-opacity="0.9"/>
<circle cx="608.5" cy="158.8" r="4.1" fill="#000614" fill-opacity="0.35"/><circle cx="608.5" cy="158.8" r="3.35" fill="#5caad4" fill-opacity="0.9"/>
<circle cx="611.5" cy="160.9" r="4.1" fill="#000614" fill-opacity="0.35"/><circle cx="611.5" cy="160.9" r="3.35" fill="#5caad4" fill-opacity="0.9"/>
<circle cx="653.7" cy="157.3" r="4.1" fill="#000614" fill-opacity="0.35"/><circle cx="653.7" cy="157.3" r="3.35" fill="#5caad4" fill-opacity="0.9"/>
<circle cx="321.2" cy="210.7" r="4.1" fill="#000614" fill-opacity="0.35"/><circle cx="321.2" cy="210.7" r="3.35" fill="#5caad4" fill-opacity="0.9"/>
<circle cx="305.6" cy="271.8" r="4.1" fill="#000614" fill-opacity="0.35"/><circle cx="305.6" cy="271.8" r="3.35" fill="#5caad4" fill-opacity="0.9"/>
<circle cx="322.6" cy="279.7" r="4.1" fill="#000614" fill-opacity="0.35"/><circle cx="322.6" cy="279.7" r="3.35" fill="#5caad4" fill-opacity="0.9"/>
<circle cx="337.5" cy="279.7" r="4.1" fill="#000614" fill-opacity="0.35"/><circle cx="337.5" cy="279.7" r="3.35" fill="#5caad4" fill-opacity="0.9"/>
<circle cx="413.8" cy="165.7" r="4.1" fill="#000614" fill-opacity="0.35"/><circle cx="413.8" cy="165.7" r="3.35" fill="#5caad4" fill-opacity="0.9"/>
<circle cx="410.6" cy="175.5" r="4.1" fill="#000614" fill-opacity="0.35"/><circle cx="410.6" cy="175.5" r="3.35" fill="#5caad4" fill-opacity="0.9"/>
<circle cx="414.9" cy="173.9" r="4.1" fill="#000614" fill-opacity="0.35"/><circle cx="414.9" cy="173.9" r="3.35" fill="#5caad4" fill-opacity="0.9"/>
<circle cx="409.5" cy="201.5" r="4.1" fill="#000614" fill-opacity="0.35"/><circle cx="409.5" cy="201.5" r="3.35" fill="#5caad4" fill-opacity="0.9"/>
<circle cx="421.4" cy="213.2" r="4.1" fill="#000614" fill-opacity="0.35"/><circle cx="421.4" cy="213.2" r="3.35" fill="#5caad4" fill-opacity="0.9"/>
<circle cx="441.0" cy="218.9" r="4.1" fill="#000614" fill-opacity="0.35"/><circle cx="441.0" cy="218.9" r="3.35" fill="#5caad4" fill-opacity="0.9"/>
<circle cx="391.0" cy="232.5" r="4.1" fill="#000614" fill-opacity="0.35"/><circle cx="391.0" cy="232.5" r="3.35" fill="#5caad4" fill-opacity="0.9"/>
<circle cx="487.5" cy="164.6" r="4.1" fill="#000614" fill-opacity="0.35"/><circle cx="487.5" cy="164.6" r="3.35" fill="#5caad4" fill-opacity="0.9"/>
<circle cx="521.7" cy="164.1" r="4.1" fill="#000614" fill-opacity="0.35"/><circle cx="521.7" cy="164.1" r="3.35" fill="#5caad4" fill-opacity="0.9"/>
<circle cx="460.1" cy="171.7" r="4.1" fill="#000614" fill-opacity="0.35"/><circle cx="460.1" cy="171.7" r="3.35" fill="#5caad4" fill-opacity="0.9"/>
<circle cx="507.3" cy="181.2" r="4.1" fill="#000614" fill-opacity="0.35"/><circle cx="507.3" cy="181.2" r="3.35" fill="#5caad4" fill-opacity="0.9"/>
<circle cx="479.3" cy="193.9" r="4.1" fill="#000614" fill-opacity="0.35"/><circle cx="479.3" cy="193.9" r="3.35" fill="#5caad4" fill-opacity="0.9"/>
<circle cx="475.8" cy="201.5" r="4.1" fill="#000614" fill-opacity="0.35"/><circle cx="475.8" cy="201.5" r="3.35" fill="#5caad4" fill-opacity="0.9"/>
<circle cx="519.5" cy="203.7" r="4.1" fill="#000614" fill-opacity="0.35"/><circle cx="519.5" cy="203.7" r="3.35" fill="#5caad4" fill-opacity="0.9"/>
<circle cx="522.2" cy="205.9" r="4.1" fill="#000614" fill-opacity="0.35"/><circle cx="522.2" cy="205.9" r="3.35" fill="#5caad4" fill-opacity="0.9"/>
<circle cx="524.9" cy="220.6" r="4.1" fill="#000614" fill-opacity="0.35"/><circle cx="524.9" cy="220.6" r="3.35" fill="#5caad4" fill-opacity="0.9"/>
<circle cx="532.5" cy="225.4" r="4.1" fill="#000614" fill-opacity="0.35"/><circle cx="532.5" cy="225.4" r="3.35" fill="#5caad4" fill-opacity="0.9"/>
<circle cx="655.3" cy="169.0" r="4.1" fill="#000614" fill-opacity="0.35"/><circle cx="655.3" cy="169.0" r="3.35" fill="#5caad4" fill-opacity="0.9"/>
<circle cx="575.7" cy="180.2" r="4.1" fill="#000614" fill-opacity="0.35"/><circle cx="575.7" cy="180.2" r="3.35" fill="#5caad4" fill-opacity="0.9"/>
<circle cx="607.0" cy="179.5" r="4.1" fill="#000614" fill-opacity="0.35"/><circle cx="607.0" cy="179.5" r="3.35" fill="#5caad4" fill-opacity="0.9"/>
<circle cx="586.4" cy="191.5" r="4.1" fill="#000614" fill-opacity="0.35"/><circle cx="586.4" cy="191.5" r="3.35" fill="#5caad4" fill-opacity="0.9"/>
<circle cx="601.3" cy="199.7" r="4.1" fill="#000614" fill-opacity="0.35"/><circle cx="601.3" cy="199.7" r="3.35" fill="#5caad4" fill-opacity="0.9"/>
<circle cx="631.9" cy="195.0" r="4.1" fill="#000614" fill-opacity="0.35"/><circle cx="631.9" cy="195.0" r="3.35" fill="#5caad4" fill-opacity="0.9"/>
<circle cx="644.7" cy="195.8" r="4.1" fill="#000614" fill-opacity="0.35"/><circle cx="644.7" cy="195.8" r="3.35" fill="#5caad4" fill-opacity="0.9"/>
<circle cx="656.4" cy="198.8" r="4.1" fill="#000614" fill-opacity="0.35"/><circle cx="656.4" cy="198.8" r="3.35" fill="#5caad4" fill-opacity="0.9"/>
<circle cx="661.2" cy="205.9" r="4.1" fill="#000614" fill-opacity="0.35"/><circle cx="661.2" cy="205.9" r="3.35" fill="#5caad4" fill-opacity="0.9"/>
<circle cx="564.9" cy="214.6" r="4.1" fill="#000614" fill-opacity="0.35"/><circle cx="564.9" cy="214.6" r="3.35" fill="#5caad4" fill-opacity="0.9"/>
<circle cx="619.2" cy="216.0" r="4.1" fill="#000614" fill-opacity="0.35"/><circle cx="619.2" cy="216.0" r="3.35" fill="#5caad4" fill-opacity="0.9"/>
<circle cx="630.4" cy="215.7" r="4.1" fill="#000614" fill-opacity="0.35"/><circle cx="630.4" cy="215.7" r="3.35" fill="#5caad4" fill-opacity="0.9"/>
<circle cx="612.7" cy="226.2" r="4.1" fill="#000614" fill-opacity="0.35"/><circle cx="612.7" cy="226.2" r="3.35" fill="#5caad4" fill-opacity="0.9"/>
<circle cx="648.2" cy="226.5" r="4.1" fill="#000614" fill-opacity="0.35"/><circle cx="648.2" cy="226.5" r="3.35" fill="#5caad4" fill-opacity="0.9"/>
<circle cx="680.9" cy="175.2" r="4.1" fill="#000614" fill-opacity="0.35"/><circle cx="680.9" cy="175.2" r="3.35" fill="#5caad4" fill-opacity="0.9"/>
<circle cx="683.9" cy="210.6" r="4.1" fill="#000614" fill-opacity="0.35"/><circle cx="683.9" cy="210.6" r="3.35" fill="#5caad4" fill-opacity="0.9"/>
<circle cx="439.4" cy="239.8" r="4.1" fill="#000614" fill-opacity="0.35"/><circle cx="439.4" cy="239.8" r="3.35" fill="#5caad4" fill-opacity="0.9"/>
<circle cx="378.2" cy="252.8" r="4.1" fill="#000614" fill-opacity="0.35"/><circle cx="378.2" cy="252.8" r="3.35" fill="#5caad4" fill-opacity="0.9"/>
<circle cx="419.1" cy="255.0" r="4.1" fill="#000614" fill-opacity="0.35"/><circle cx="419.1" cy="255.0" r="3.35" fill="#5caad4" fill-opacity="0.9"/>
<circle cx="391.6" cy="258.3" r="4.1" fill="#000614" fill-opacity="0.35"/><circle cx="391.6" cy="258.3" r="3.35" fill="#5caad4" fill-opacity="0.9"/>
<circle cx="429.3" cy="262.1" r="4.1" fill="#000614" fill-opacity="0.35"/><circle cx="429.3" cy="262.1" r="3.35" fill="#5caad4" fill-opacity="0.9"/>
<circle cx="426.9" cy="268.4" r="4.1" fill="#000614" fill-opacity="0.35"/><circle cx="426.9" cy="268.4" r="3.35" fill="#5caad4" fill-opacity="0.9"/>
<circle cx="392.1" cy="271.3" r="4.1" fill="#000614" fill-opacity="0.35"/><circle cx="392.1" cy="271.3" r="3.35" fill="#5caad4" fill-opacity="0.9"/>
<circle cx="357.4" cy="282.9" r="4.1" fill="#000614" fill-opacity="0.35"/><circle cx="357.4" cy="282.9" r="3.35" fill="#5caad4" fill-opacity="0.9"/>
<circle cx="344.1" cy="287.0" r="4.1" fill="#000614" fill-opacity="0.35"/><circle cx="344.1" cy="287.0" r="3.35" fill="#5caad4" fill-opacity="0.9"/>
<circle cx="402.8" cy="291.9" r="4.1" fill="#000614" fill-opacity="0.35"/><circle cx="402.8" cy="291.9" r="3.35" fill="#5caad4" fill-opacity="0.9"/>
<circle cx="432.3" cy="294.6" r="4.1" fill="#000614" fill-opacity="0.35"/><circle cx="432.3" cy="294.6" r="3.35" fill="#5caad4" fill-opacity="0.9"/>
<circle cx="357.4" cy="299.5" r="4.1" fill="#000614" fill-opacity="0.35"/><circle cx="357.4" cy="299.5" r="3.35" fill="#5caad4" fill-opacity="0.9"/>
<circle cx="350.3" cy="307.1" r="4.1" fill="#000614" fill-opacity="0.35"/><circle cx="350.3" cy="307.1" r="3.35" fill="#5caad4" fill-opacity="0.9"/>
<circle cx="487.1" cy="248.8" r="4.1" fill="#000614" fill-opacity="0.35"/><circle cx="487.1" cy="248.8" r="3.35" fill="#5caad4" fill-opacity="0.9"/>
<circle cx="501.9" cy="245.8" r="4.1" fill="#000614" fill-opacity="0.35"/><circle cx="501.9" cy="245.8" r="3.35" fill="#5caad4" fill-opacity="0.9"/>
<circle cx="480.9" cy="258.6" r="4.1" fill="#000614" fill-opacity="0.35"/><circle cx="480.9" cy="258.6" r="3.35" fill="#5caad4" fill-opacity="0.9"/>
<circle cx="483.1" cy="286.2" r="4.1" fill="#000614" fill-opacity="0.35"/><circle cx="483.1" cy="286.2" r="3.35" fill="#5caad4" fill-opacity="0.9"/>
<circle cx="519.3" cy="288.1" r="4.1" fill="#000614" fill-opacity="0.35"/><circle cx="519.3" cy="288.1" r="3.35" fill="#5caad4" fill-opacity="0.9"/>
<circle cx="540.7" cy="289.4" r="4.1" fill="#000614" fill-opacity="0.35"/><circle cx="540.7" cy="289.4" r="3.35" fill="#5caad4" fill-opacity="0.9"/>
<circle cx="555.9" cy="298.1" r="4.1" fill="#000614" fill-opacity="0.35"/><circle cx="555.9" cy="298.1" r="3.35" fill="#5caad4" fill-opacity="0.9"/>
<circle cx="613.8" cy="253.9" r="4.1" fill="#000614" fill-opacity="0.35"/><circle cx="613.8" cy="253.9" r="3.35" fill="#5caad4" fill-opacity="0.9"/>
<circle cx="642.3" cy="256.1" r="4.1" fill="#000614" fill-opacity="0.35"/><circle cx="642.3" cy="256.1" r="3.35" fill="#5caad4" fill-opacity="0.9"/>
<circle cx="570.9" cy="264.2" r="4.1" fill="#000614" fill-opacity="0.35"/><circle cx="570.9" cy="264.2" r="3.35" fill="#5caad4" fill-opacity="0.9"/>
<circle cx="584.1" cy="272.9" r="4.1" fill="#000614" fill-opacity="0.35"/><circle cx="584.1" cy="272.9" r="3.35" fill="#5caad4" fill-opacity="0.9"/>
<circle cx="636.9" cy="281.1" r="4.1" fill="#000614" fill-opacity="0.35"/><circle cx="636.9" cy="281.1" r="3.35" fill="#5caad4" fill-opacity="0.9"/>
<circle cx="567.6" cy="300.1" r="4.1" fill="#000614" fill-opacity="0.35"/><circle cx="567.6" cy="300.1" r="3.35" fill="#5caad4" fill-opacity="0.9"/>
<circle cx="636.6" cy="303.9" r="4.1" fill="#000614" fill-opacity="0.35"/><circle cx="636.6" cy="303.9" r="3.35" fill="#5caad4" fill-opacity="0.9"/>
<circle cx="634.9" cy="306.6" r="4.1" fill="#000614" fill-opacity="0.35"/><circle cx="634.9" cy="306.6" r="3.35" fill="#5caad4" fill-opacity="0.9"/>
<circle cx="613.8" cy="307.7" r="4.1" fill="#000614" fill-opacity="0.35"/><circle cx="613.8" cy="307.7" r="3.35" fill="#5caad4" fill-opacity="0.9"/>
<circle cx="673.5" cy="244.1" r="4.1" fill="#000614" fill-opacity="0.35"/><circle cx="673.5" cy="244.1" r="3.35" fill="#5caad4" fill-opacity="0.9"/>
<circle cx="685.2" cy="256.4" r="4.1" fill="#000614" fill-opacity="0.35"/><circle cx="685.2" cy="256.4" r="3.35" fill="#5caad4" fill-opacity="0.9"/>
<circle cx="715.1" cy="262.6" r="4.1" fill="#000614" fill-opacity="0.35"/><circle cx="715.1" cy="262.6" r="3.35" fill="#5caad4" fill-opacity="0.9"/>
<circle cx="719.7" cy="270.2" r="4.1" fill="#000614" fill-opacity="0.35"/><circle cx="719.7" cy="270.2" r="3.35" fill="#5caad4" fill-opacity="0.9"/>
<circle cx="731.4" cy="270.5" r="4.1" fill="#000614" fill-opacity="0.35"/><circle cx="731.4" cy="270.5" r="3.35" fill="#5caad4" fill-opacity="0.9"/>
<circle cx="683.9" cy="278.9" r="4.1" fill="#000614" fill-opacity="0.35"/><circle cx="683.9" cy="278.9" r="3.35" fill="#5caad4" fill-opacity="0.9"/>
<circle cx="691.5" cy="282.5" r="4.1" fill="#000614" fill-opacity="0.35"/><circle cx="691.5" cy="282.5" r="3.35" fill="#5caad4" fill-opacity="0.9"/>
<circle cx="737.9" cy="286.2" r="4.1" fill="#000614" fill-opacity="0.35"/><circle cx="737.9" cy="286.2" r="3.35" fill="#5caad4" fill-opacity="0.9"/>
<circle cx="720.5" cy="292.7" r="4.1" fill="#000614" fill-opacity="0.35"/><circle cx="720.5" cy="292.7" r="3.35" fill="#5caad4" fill-opacity="0.9"/>
<circle cx="687.6" cy="300.1" r="4.1" fill="#000614" fill-opacity="0.35"/><circle cx="687.6" cy="300.1" r="3.35" fill="#5caad4" fill-opacity="0.9"/>
<circle cx="761.2" cy="302.8" r="4.1" fill="#000614" fill-opacity="0.35"/><circle cx="761.2" cy="302.8" r="3.35" fill="#5caad4" fill-opacity="0.9"/>
<circle cx="782.1" cy="263.0" r="4.1" fill="#000614" fill-opacity="0.35"/><circle cx="782.1" cy="263.0" r="3.35" fill="#5caad4" fill-opacity="0.9"/>
<circle cx="813.0" cy="287.1" r="4.1" fill="#000614" fill-opacity="0.35"/><circle cx="813.0" cy="287.1" r="3.35" fill="#5caad4" fill-opacity="0.9"/>
<circle cx="835.3" cy="290.3" r="4.1" fill="#000614" fill-opacity="0.35"/><circle cx="835.3" cy="290.3" r="3.35" fill="#5caad4" fill-opacity="0.9"/>
<circle cx="871.5" cy="302.4" r="4.1" fill="#000614" fill-opacity="0.35"/><circle cx="871.5" cy="302.4" r="3.35" fill="#5caad4" fill-opacity="0.9"/>
<circle cx="325.4" cy="319.8" r="4.1" fill="#000614" fill-opacity="0.35"/><circle cx="325.4" cy="319.8" r="3.35" fill="#5caad4" fill-opacity="0.9"/>
<circle cx="306.0" cy="327.5" r="4.1" fill="#000614" fill-opacity="0.35"/><circle cx="306.0" cy="327.5" r="3.35" fill="#5caad4" fill-opacity="0.9"/>
<circle cx="323.7" cy="400.7" r="4.1" fill="#000614" fill-opacity="0.35"/><circle cx="323.7" cy="400.7" r="3.35" fill="#5caad4" fill-opacity="0.9"/>
<circle cx="316.9" cy="437.6" r="4.1" fill="#000614" fill-opacity="0.35"/><circle cx="316.9" cy="437.6" r="3.35" fill="#5caad4" fill-opacity="0.9"/>
<circle cx="312.0" cy="442.9" r="4.1" fill="#000614" fill-opacity="0.35"/><circle cx="312.0" cy="442.9" r="3.35" fill="#5caad4" fill-opacity="0.9"/>
<circle cx="371.3" cy="316.4" r="4.1" fill="#000614" fill-opacity="0.35"/><circle cx="371.3" cy="316.4" r="3.35" fill="#5caad4" fill-opacity="0.9"/>
<circle cx="390.5" cy="316.4" r="4.1" fill="#000614" fill-opacity="0.35"/><circle cx="390.5" cy="316.4" r="3.35" fill="#5caad4" fill-opacity="0.9"/>
<circle cx="344.1" cy="327.5" r="4.1" fill="#000614" fill-opacity="0.35"/><circle cx="344.1" cy="327.5" r="3.35" fill="#5caad4" fill-opacity="0.9"/>
<circle cx="411.1" cy="329.4" r="4.1" fill="#000614" fill-opacity="0.35"/><circle cx="411.1" cy="329.4" r="3.35" fill="#5caad4" fill-opacity="0.9"/>
<circle cx="446.4" cy="348.6" r="4.1" fill="#000614" fill-opacity="0.35"/><circle cx="446.4" cy="348.6" r="3.35" fill="#5caad4" fill-opacity="0.9"/>
<circle cx="409.0" cy="360.3" r="4.1" fill="#000614" fill-opacity="0.35"/><circle cx="409.0" cy="360.3" r="3.35" fill="#5caad4" fill-opacity="0.9"/>
<circle cx="377.5" cy="370.0" r="4.1" fill="#000614" fill-opacity="0.35"/><circle cx="377.5" cy="370.0" r="3.35" fill="#5caad4" fill-opacity="0.9"/>
<circle cx="433.2" cy="371.8" r="4.1" fill="#000614" fill-opacity="0.35"/><circle cx="433.2" cy="371.8" r="3.35" fill="#5caad4" fill-opacity="0.9"/>
<circle cx="495.6" cy="311.2" r="4.1" fill="#000614" fill-opacity="0.35"/><circle cx="495.6" cy="311.2" r="3.35" fill="#5caad4" fill-opacity="0.9"/>
<circle cx="483.1" cy="319.3" r="4.1" fill="#000614" fill-opacity="0.35"/><circle cx="483.1" cy="319.3" r="3.35" fill="#5caad4" fill-opacity="0.9"/>
<circle cx="463.0" cy="330.2" r="4.1" fill="#000614" fill-opacity="0.35"/><circle cx="463.0" cy="330.2" r="3.35" fill="#5caad4" fill-opacity="0.9"/>
<circle cx="475.0" cy="331.8" r="4.1" fill="#000614" fill-opacity="0.35"/><circle cx="475.0" cy="331.8" r="3.35" fill="#5caad4" fill-opacity="0.9"/>
<circle cx="515.5" cy="340.5" r="4.1" fill="#000614" fill-opacity="0.35"/><circle cx="515.5" cy="340.5" r="3.35" fill="#5caad4" fill-opacity="0.9"/>
<circle cx="552.6" cy="339.9" r="4.1" fill="#000614" fill-opacity="0.35"/><circle cx="552.6" cy="339.9" r="3.35" fill="#5caad4" fill-opacity="0.9"/>
<circle cx="547.5" cy="369.3" r="4.1" fill="#000614" fill-opacity="0.35"/><circle cx="547.5" cy="369.3" r="3.35" fill="#5caad4" fill-opacity="0.9"/>
<circle cx="638.2" cy="313.9" r="4.1" fill="#000614" fill-opacity="0.35"/><circle cx="638.2" cy="313.9" r="3.35" fill="#5caad4" fill-opacity="0.9"/>
<circle cx="604.5" cy="335.1" r="4.1" fill="#000614" fill-opacity="0.35"/><circle cx="604.5" cy="335.1" r="3.35" fill="#5caad4" fill-opacity="0.9"/>
<circle cx="629.0" cy="336.1" r="4.1" fill="#000614" fill-opacity="0.35"/><circle cx="629.0" cy="336.1" r="3.35" fill="#5caad4" fill-opacity="0.9"/>
<circle cx="622.4" cy="351.9" r="4.1" fill="#000614" fill-opacity="0.35"/><circle cx="622.4" cy="351.9" r="3.35" fill="#5caad4" fill-opacity="0.9"/>
<circle cx="629.0" cy="353.5" r="4.1" fill="#000614" fill-opacity="0.35"/><circle cx="629.0" cy="353.5" r="3.35" fill="#5caad4" fill-opacity="0.9"/>
<circle cx="587.1" cy="367.1" r="4.1" fill="#000614" fill-opacity="0.35"/><circle cx="587.1" cy="367.1" r="3.35" fill="#5caad4" fill-opacity="0.9"/>
<circle cx="576.3" cy="371.1" r="4.1" fill="#000614" fill-opacity="0.35"/><circle cx="576.3" cy="371.1" r="3.35" fill="#5caad4" fill-opacity="0.9"/>
<circle cx="631.1" cy="376.9" r="4.1" fill="#000614" fill-opacity="0.35"/><circle cx="631.1" cy="376.9" r="3.35" fill="#5caad4" fill-opacity="0.9"/>
<circle cx="756.9" cy="312.8" r="4.1" fill="#000614" fill-opacity="0.35"/><circle cx="756.9" cy="312.8" r="3.35" fill="#5caad4" fill-opacity="0.9"/>
<circle cx="685.2" cy="320.4" r="4.1" fill="#000614" fill-opacity="0.35"/><circle cx="685.2" cy="320.4" r="3.35" fill="#5caad4" fill-opacity="0.9"/>
<circle cx="677.6" cy="351.9" r="4.1" fill="#000614" fill-opacity="0.35"/><circle cx="677.6" cy="351.9" r="3.35" fill="#5caad4" fill-opacity="0.9"/>
<circle cx="723.0" cy="356.2" r="4.1" fill="#000614" fill-opacity="0.35"/><circle cx="723.0" cy="356.2" r="3.35" fill="#5caad4" fill-opacity="0.9"/>
<circle cx="708.5" cy="364.6" r="4.1" fill="#000614" fill-opacity="0.35"/><circle cx="708.5" cy="364.6" r="3.35" fill="#5caad4" fill-opacity="0.9"/>
<circle cx="768.8" cy="357.9" r="4.1" fill="#000614" fill-opacity="0.35"/><circle cx="768.8" cy="357.9" r="3.35" fill="#5caad4" fill-opacity="0.9"/>
<circle cx="677.6" cy="370.9" r="4.1" fill="#000614" fill-opacity="0.35"/><circle cx="677.6" cy="370.9" r="3.35" fill="#5caad4" fill-opacity="0.9"/>
<circle cx="768.8" cy="374.2" r="4.1" fill="#000614" fill-opacity="0.35"/><circle cx="768.8" cy="374.2" r="3.35" fill="#5caad4" fill-opacity="0.9"/>
<circle cx="382.3" cy="395.2" r="4.1" fill="#000614" fill-opacity="0.35"/><circle cx="382.3" cy="395.2" r="3.35" fill="#5caad4" fill-opacity="0.9"/>
<circle cx="411.1" cy="434.1" r="4.1" fill="#000614" fill-opacity="0.35"/><circle cx="411.1" cy="434.1" r="3.35" fill="#5caad4" fill-opacity="0.9"/>
<circle cx="515.7" cy="401.5" r="4.1" fill="#000614" fill-opacity="0.35"/><circle cx="515.7" cy="401.5" r="3.35" fill="#5caad4" fill-opacity="0.9"/>
<circle cx="452.4" cy="414.6" r="4.1" fill="#000614" fill-opacity="0.35"/><circle cx="452.4" cy="414.6" r="3.35" fill="#5caad4" fill-opacity="0.9"/>
<circle cx="540.5" cy="426.0" r="4.1" fill="#000614" fill-opacity="0.35"/><circle cx="540.5" cy="426.0" r="3.35" fill="#5caad4" fill-opacity="0.9"/>
<circle cx="481.7" cy="445.5" r="4.1" fill="#000614" fill-opacity="0.35"/><circle cx="481.7" cy="445.5" r="3.35" fill="#5caad4" fill-opacity="0.9"/>
<circle cx="607.8" cy="385.3" r="4.1" fill="#000614" fill-opacity="0.35"/><circle cx="607.8" cy="385.3" r="3.35" fill="#5caad4" fill-opacity="0.9"/>
<circle cx="655.3" cy="393.4" r="4.1" fill="#000614" fill-opacity="0.35"/><circle cx="655.3" cy="393.4" r="3.35" fill="#5caad4" fill-opacity="0.9"/>
<circle cx="586.1" cy="438.7" r="4.1" fill="#000614" fill-opacity="0.35"/><circle cx="586.1" cy="438.7" r="3.35" fill="#5caad4" fill-opacity="0.9"/>
<circle cx="623.3" cy="443.4" r="4.1" fill="#000614" fill-opacity="0.35"/><circle cx="623.3" cy="443.4" r="3.35" fill="#5caad4" fill-opacity="0.9"/>
<circle cx="688.2" cy="389.8" r="4.1" fill="#000614" fill-opacity="0.35"/><circle cx="688.2" cy="389.8" r="3.35" fill="#5caad4" fill-opacity="0.9"/>
<circle cx="675.6" cy="416.5" r="4.1" fill="#000614" fill-opacity="0.35"/><circle cx="675.6" cy="416.5" r="3.35" fill="#5caad4" fill-opacity="0.9"/>
<circle cx="428.9" cy="464.2" r="4.1" fill="#000614" fill-opacity="0.35"/><circle cx="428.9" cy="464.2" r="3.35" fill="#5caad4" fill-opacity="0.9"/>
<circle cx="417.3" cy="509.2" r="4.1" fill="#000614" fill-opacity="0.35"/><circle cx="417.3" cy="509.2" r="3.35" fill="#5caad4" fill-opacity="0.9"/>
<circle cx="679.6" cy="464.8" r="4.1" fill="#000614" fill-opacity="0.35"/><circle cx="679.6" cy="464.8" r="3.35" fill="#5caad4" fill-opacity="0.9"/>
<circle cx="690.4" cy="460.1" r="4.1" fill="#000614" fill-opacity="0.35"/><circle cx="690.4" cy="460.1" r="3.35" fill="#5caad4" fill-opacity="0.9"/>
<circle cx="731.1" cy="506.1" r="4.1" fill="#000614" fill-opacity="0.35"/><circle cx="731.1" cy="506.1" r="3.35" fill="#5caad4" fill-opacity="0.9"/>
<circle cx="437" cy="342.7" r="6.1" fill="#e6d766" stroke="#0b1322" stroke-width="2"/>
<circle cx="543" cy="273" r="6.1" fill="#5ec4f4" stroke="#0b1322" stroke-width="2"/>
<text x="100" y="570.00" text-anchor="end" class="tk">200</text>
<text x="100" y="457.75" text-anchor="end" class="tk">220</text>
<text x="100" y="345.50" text-anchor="end" class="tk">240</text>
<text x="100" y="233.25" text-anchor="end" class="tk">260</text>
<text x="100" y="121.00" text-anchor="end" class="tk">280</text>
<text x="141.51" y="619" text-anchor="middle" class="tk">-60</text>
<text x="284.09" y="619" text-anchor="middle" class="tk">-40</text>
<text x="426.67" y="619" text-anchor="middle" class="tk">-20</text>
<text x="569.25" y="619" text-anchor="middle" class="tk">0</text>
<text x="711.83" y="619" text-anchor="middle" class="tk">20</text>
<text x="854.41" y="619" text-anchor="middle" class="tk">40</text>
<text x="996.99" y="619" text-anchor="middle" class="tk">60</text>
<text x="569" y="645" text-anchor="middle" class="ti">Offline (yards)</text>
<text transform="translate(38,309.5) rotate(-90)" x="0" y="0" text-anchor="middle" class="ti">Total Distance (yards)</text>
<rect x="841" y="31" width="182" height="57" fill="#07081a" fill-opacity="0.6"/>
<rect x="849" y="41" width="13" height="13" fill="#ecc148"/>
<rect x="849" y="61" width="13" height="13" fill="#4cbff5"/>
<text x="869" y="51" class="lg" textLength="131.2" lengthAdjust="spacingAndGlyphs">COBRA OPTM Max-D</text>
<text x="869" y="71" class="lg" textLength="104.5" lengthAdjust="spacingAndGlyphs">COBRA OPTM LS</text>
</svg></body></html>
